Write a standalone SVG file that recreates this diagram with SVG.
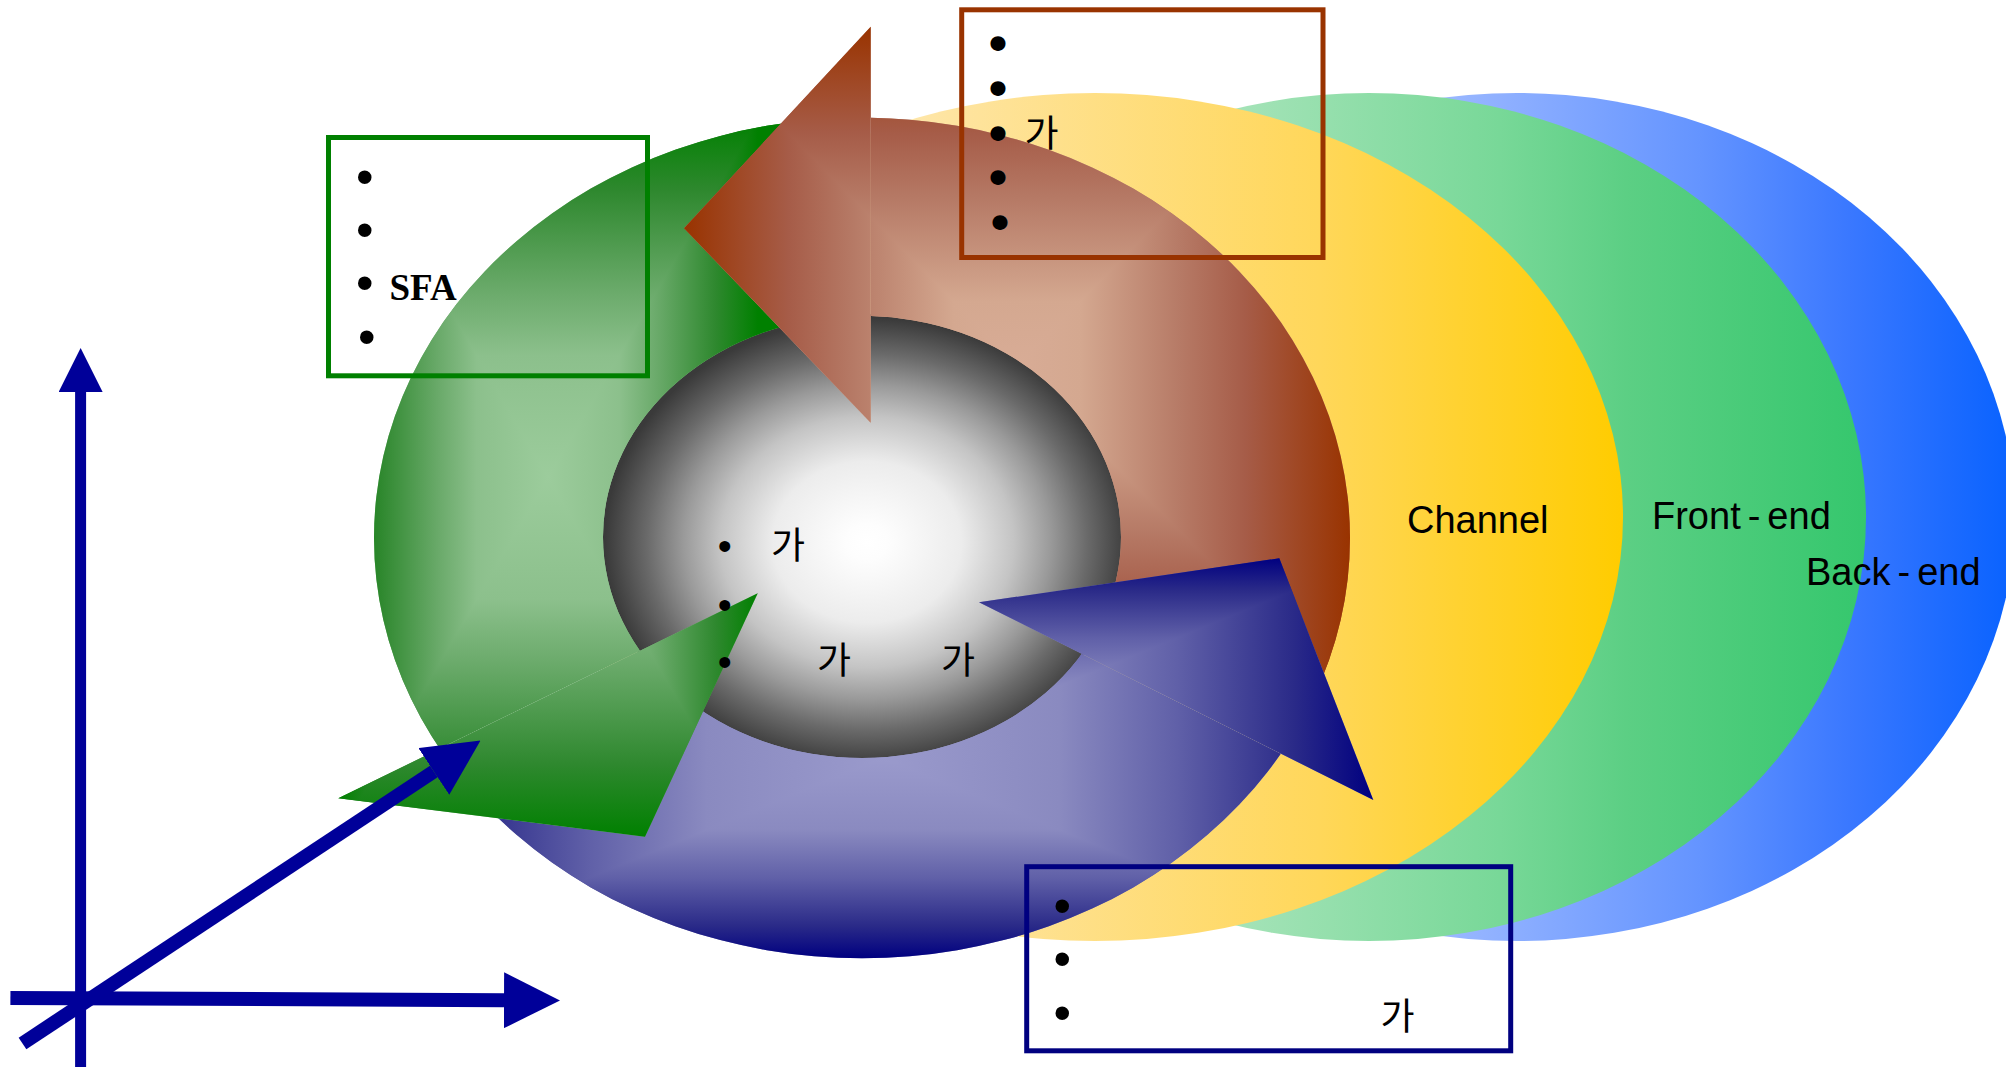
<svg xmlns="http://www.w3.org/2000/svg" xmlns:xlink="http://www.w3.org/1999/xlink" width="2006" height="1067" viewBox="0 0 2006 1067">
  <style>
    .lbl { font-family: "Liberation Sans", Arial, sans-serif; font-size: 38px; fill: #000; }
    .t { fill: #000; }
    .bul { font-family: "Liberation Sans", Arial, sans-serif; font-size: 50px; text-anchor: middle; }
    .bul-c { font-family: "DejaVu Sans", sans-serif; font-size: 38px; text-anchor: middle; stroke: #000; stroke-width: 4; stroke-linejoin: round; }
    .bul-s { font-family: "Liberation Sans", Arial, sans-serif; font-size: 40px; text-anchor: middle; }
    .ko { font-family: "Liberation Sans", "Noto Sans CJK KR", "Noto Sans CJK SC", sans-serif; font-size: 37px; text-anchor: middle; }
    .sfa { font-family: "Liberation Serif", "Times New Roman", serif; font-size: 37px; font-weight: bold; text-anchor: start; }
    .box { fill: none; stroke-width: 5; }
    .axis { fill: none; stroke: #000099; marker-end: url(#axisHead); }
    .iso { isolation: isolate; }
    .dk { mix-blend-mode: darken; }
  </style>
  <defs>
    <!-- background ellipse fills -->
    <linearGradient id="gBack" gradientUnits="userSpaceOnUse" x1="1400" y1="0" x2="2015" y2="0">
      <stop offset="0" stop-color="#a2beff"/>
      <stop offset="0.163" stop-color="#8fb0ff"/>
      <stop offset="0.488" stop-color="#6494ff"/>
      <stop offset="0.73" stop-color="#3a78ff"/>
      <stop offset="1" stop-color="#0862ff"/>
    </linearGradient>
    <linearGradient id="gFront" gradientUnits="userSpaceOnUse" x1="1200" y1="0" x2="1866" y2="0">
      <stop offset="0" stop-color="#abe5bd"/>
      <stop offset="0.05" stop-color="#a5e3b8"/>
      <stop offset="0.45" stop-color="#78d898"/>
      <stop offset="0.64" stop-color="#5ccf84"/>
      <stop offset="1" stop-color="#35c76d"/>
    </linearGradient>
    <linearGradient id="gChannel" gradientUnits="userSpaceOnUse" x1="880" y1="0" x2="1623" y2="0">
      <stop offset="0" stop-color="#fee8b0"/>
      <stop offset="0.094" stop-color="#fee4a0"/>
      <stop offset="0.592" stop-color="#ffd75a"/>
      <stop offset="1" stop-color="#ffcc00"/>
    </linearGradient>

    <!-- hub -->
    <radialGradient id="gHub" gradientUnits="userSpaceOnUse" cx="0" cy="0" r="1" gradientTransform="translate(867 542) scale(262 224)">
      <stop offset="0" stop-color="#ffffff"/>
      <stop offset="0.08" stop-color="#fdfdfd"/>
      <stop offset="0.36" stop-color="#ececec"/>
      <stop offset="0.56" stop-color="#c4c4c4"/>
      <stop offset="0.7" stop-color="#9a9a9a"/>
      <stop offset="0.84" stop-color="#6a6a6a"/>
      <stop offset="1" stop-color="#3a3a3a"/>
    </radialGradient>

    <!-- cycle segments: a horizontal and a vertical band, combined with darken -->
    <linearGradient id="gGreenH" gradientUnits="userSpaceOnUse" x1="338" y1="0" x2="758" y2="0">
      <stop offset="0" stop-color="#008000"/><stop offset="0.1" stop-color="#2e882e"/><stop offset="0.24" stop-color="#6aaa6a"/><stop offset="0.33" stop-color="#8cc08c"/><stop offset="0.5" stop-color="#9ccc9c"/>
      <stop offset="0.67" stop-color="#8cc08c"/><stop offset="0.76" stop-color="#6aaa6a"/><stop offset="0.9" stop-color="#2e882e"/><stop offset="1" stop-color="#008000"/>
    </linearGradient>
    <linearGradient id="gGreenV" href="#gGreenH" x1="0" y1="118" x2="0" y2="837"/>
    <linearGradient id="gBrownH" gradientUnits="userSpaceOnUse" x1="684" y1="0" x2="1350" y2="0">
      <stop offset="0" stop-color="#993300"/><stop offset="0.157" stop-color="#a65c48"/><stop offset="0.255" stop-color="#b67a66"/><stop offset="0.405" stop-color="#d4a890"/><stop offset="0.5" stop-color="#d8ac96"/>
      <stop offset="0.595" stop-color="#d4a890"/><stop offset="0.745" stop-color="#b67a66"/><stop offset="0.843" stop-color="#a65c48"/><stop offset="1" stop-color="#993300"/>
    </linearGradient>
    <linearGradient id="gBrownV" href="#gBrownH" x1="0" y1="27" x2="0" y2="704"/>
    <linearGradient id="gBlueH" gradientUnits="userSpaceOnUse" x1="393" y1="0" x2="1373" y2="0">
      <stop offset="0" stop-color="#000080"/><stop offset="0.08" stop-color="#2a2a88"/><stop offset="0.2" stop-color="#6060a8"/><stop offset="0.32" stop-color="#8a8ac0"/><stop offset="0.5" stop-color="#9a9acc"/>
      <stop offset="0.68" stop-color="#8a8ac0"/><stop offset="0.8" stop-color="#6060a8"/><stop offset="0.92" stop-color="#2a2a88"/><stop offset="1" stop-color="#000080"/>
    </linearGradient>
    <linearGradient id="gBlueV" href="#gBlueH" x1="0" y1="558" x2="0" y2="958"/>

    <!-- elliptical ring shared by the three segments -->
    <path id="ring" fill-rule="evenodd" d="M374,538 A488,420 0 1,0 1350,538 A488,420 0 1,0 374,538 Z M603,537 A259,221 0 1,0 1121,537 A259,221 0 1,0 603,537 Z"/>
    <polygon id="headGreen" points="338.3,798.3 757.7,593.3 645,836.7"/>
    <polygon id="headBrown" points="870.7,26.7 684,228.3 870.7,422.7"/>
    <polygon id="headBlue" points="979,602.3 1279.3,558.3 1373.3,800"/>

    <clipPath id="clipGreen"><polygon points="866,540.4 -300,1110 -300,-300 748,-300"/></clipPath>
    <clipPath id="clipBrown"><polygon points="871,542 871,-300 2300,-300 2300,1062"/></clipPath>
    <clipPath id="clipBlue"><polygon points="866,545.6 2300,1264.6 2300,1400 -300,1400 -300,1274.6"/></clipPath>

    <marker id="axisHead" viewBox="0 0 10 10" refX="0" refY="5" markerWidth="4" markerHeight="4" orient="auto" markerUnits="strokeWidth">
      <path d="M0,0 L10,5 L0,10 Z" fill="#000099"/>
    </marker>
  </defs>

  <!-- layered stages -->
  <g id="back-end"><ellipse cx="1517" cy="517" rx="498" ry="424" fill="url(#gBack)"/></g>
  <g id="front-end"><ellipse cx="1369" cy="517" rx="497" ry="424" fill="url(#gFront)"/></g>
  <g id="channel"><ellipse cx="1095" cy="517" rx="528" ry="424" fill="url(#gChannel)"/></g>
  <g id="stage-labels">
    <text class="lbl" x="1407" y="533">Channel</text>
    <text class="lbl" x="1652" y="529">Front<tspan dx="7">-</tspan><tspan dx="7">end</tspan></text>
    <text class="lbl" x="1806" y="585">Back<tspan dx="7">-</tspan><tspan dx="7">end</tspan></text>
  </g>

  <!-- hub of the cycle -->
  <g id="hub"><ellipse cx="862" cy="537" rx="261" ry="223" fill="url(#gHub)"/></g>

  <!-- cycle segment bodies -->
  <g id="cycle-green-body" class="iso" clip-path="url(#clipGreen)">
    <use href="#ring" fill="url(#gGreenH)"/>
    <use href="#ring" fill="url(#gGreenV)" class="dk"/>
  </g>
  <g id="cycle-brown-body" class="iso" clip-path="url(#clipBrown)">
    <use href="#ring" fill="url(#gBrownH)"/>
    <use href="#ring" fill="url(#gBrownV)" class="dk"/>
  </g>
  <g id="cycle-blue-body" class="iso" clip-path="url(#clipBlue)">
    <use href="#ring" fill="url(#gBlueH)"/>
    <use href="#ring" fill="url(#gBlueV)" class="dk"/>
  </g>

  <!-- cycle segment arrowheads -->
  <g id="cycle-brown-head" class="iso">
    <use href="#headBrown" fill="url(#gBrownH)"/>
    <use href="#headBrown" fill="url(#gBrownV)" class="dk"/>
  </g>
  <g id="cycle-green-head" class="iso">
    <use href="#headGreen" fill="url(#gGreenH)"/>
    <use href="#headGreen" fill="url(#gGreenV)" class="dk"/>
  </g>
  <g id="cycle-blue-head" class="iso">
    <use href="#headBlue" fill="url(#gBlueH)"/>
    <use href="#headBlue" fill="url(#gBlueV)" class="dk"/>
  </g>

  <!-- hub text -->
  <g id="hub-text">
    <text class="t">
      <tspan class="bul-s" x="726.7" y="560.3">•</tspan>
      <tspan class="ko" x="790" y="559.4">가</tspan>
      <tspan class="bul-s" x="726.7" y="618.6">•</tspan>
      <tspan class="bul-s" x="726.7" y="676">•</tspan>
      <tspan class="ko" x="836" y="674.4">가</tspan>
      <tspan class="ko" x="958" y="674.4">가</tspan>
    </text>
  </g>

  <!-- callout boxes -->
  <g id="box-green">
    <rect class="box" x="328.5" y="137.5" width="319" height="238.3" stroke="#008000"/>
    <text class="t">
      <tspan class="bul" x="366.7" y="193.7">•</tspan>
      <tspan class="bul" x="366.7" y="247">•</tspan>
      <tspan class="bul" x="366.7" y="300.3">•</tspan>
      <tspan class="sfa" x="389.5" y="300">SFA</tspan>
      <tspan class="bul" x="366.7" y="354.3">•</tspan>
    </text>
  </g>
  <g id="box-brown">
    <rect class="box" x="961.7" y="9.8" width="361.3" height="247.7" stroke="#993300"/>
    <text class="t">
      <tspan class="bul-c" x="1000" y="57.5">•</tspan>
      <tspan class="bul-c" x="1000" y="102.5">•</tspan>
      <tspan class="bul-c" x="1000" y="147.5">•</tspan>
      <tspan class="ko" x="1043.5" y="147.4">가</tspan>
      <tspan class="bul-c" x="1000" y="191.8">•</tspan>
      <tspan class="bul-c" x="1000" y="236.5">•</tspan>
    </text>
  </g>
  <g id="box-blue">
    <rect class="box" x="1026.7" y="866.7" width="484" height="184.1" stroke="#000080"/>
    <text class="t">
      <tspan class="bul" x="1064.3" y="923">•</tspan>
      <tspan class="bul" x="1064.3" y="976.3">•</tspan>
      <tspan class="bul" x="1064.3" y="1029.7">•</tspan>
      <tspan class="ko" x="1397.5" y="1030.4">가</tspan>
    </text>
  </g>

  <!-- coordinate axes -->
  <g id="connectors">
    <line class="axis" x1="80.6" y1="1067" x2="80.6" y2="392" stroke-width="11"/>
    <line class="axis" x1="10.4" y1="998" x2="504" y2="1000.2" stroke-width="14"/>
    <line class="axis" x1="22.5" y1="1043.5" x2="433.8" y2="771.5" stroke-width="14"/>
  </g>
</svg>
